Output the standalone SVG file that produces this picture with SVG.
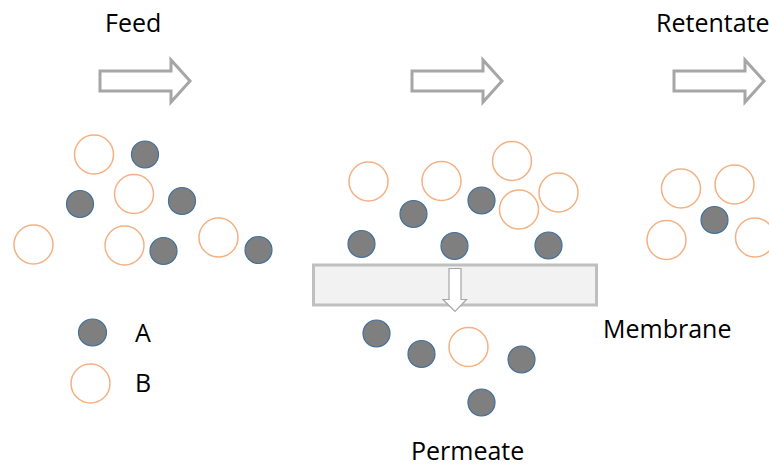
<svg xmlns="http://www.w3.org/2000/svg" width="769" height="466" viewBox="0 0 769 466">
<defs>
<style>
.lbl{font-family:"Open Sans","Liberation Sans",sans-serif;font-size:25px;fill:#000}
.a{fill:#7f7f7f;stroke:#41719c;stroke-width:1.2}
.b{fill:#fff;stroke:#f4b183;stroke-width:1.5}
.flow{fill:#fff;stroke:#a6a6a6;stroke-width:3;stroke-linejoin:miter}
</style>
<circle id="pa" r="13.5"/>
<circle id="pb" r="19.5"/>
</defs>
<rect width="769" height="466" fill="#fff"/>
<g id="labels">
<text class="lbl" x="105" y="32">Feed</text>
<text class="lbl" x="656" y="32">Retentate</text>
<text class="lbl" x="603" y="338">Membrane</text>
<text class="lbl" x="411" y="460">Permeate</text>
<text class="lbl" x="135" y="342">A</text>
<text class="lbl" x="135" y="392">B</text>
</g>
<g id="connectors">
<path class="flow" d="M100,71 H171 V60 L190,81 L171,102 V91 H100 Z"/>
<path class="flow" d="M412,71 H483 V60 L502,81 L483,102 V91 H412 Z"/>
<path class="flow" d="M674,71 H745 V60 L764,81 L745,102 V91 H674 Z"/>
</g>
<g id="membrane">
<rect x="313.5" y="265" width="283" height="40" fill="#f2f2f2" stroke="#bfbfbf" stroke-width="3"/>
<path d="M449,268.5 H461 V299.5 H466.5 L455,311.5 L443,299.5 H449 Z" fill="#fff" stroke="#a6a6a6" stroke-width="1.2"/>
</g>
<g id="feed-particles">
<use href="#pb" class="b" x="94" y="154.5"/>
<use href="#pa" class="a" x="145" y="154.5"/>
<use href="#pb" class="b" x="134" y="194"/>
<use href="#pa" class="a" x="80" y="204"/>
<use href="#pa" class="a" x="182" y="201"/>
<use href="#pb" class="b" x="33.5" y="244.5"/>
<use href="#pb" class="b" x="124.5" y="245.5"/>
<use href="#pa" class="a" x="163.5" y="251"/>
<use href="#pb" class="b" x="218.5" y="237.5"/>
<use href="#pa" class="a" x="258.5" y="250"/>
</g>
<g id="membrane-particles">
<use href="#pb" class="b" x="368.5" y="181.5"/>
<use href="#pb" class="b" x="441.5" y="181"/>
<use href="#pb" class="b" x="512" y="161"/>
<use href="#pb" class="b" x="558.5" y="192.5"/>
<use href="#pb" class="b" x="519" y="209.5"/>
<use href="#pa" class="a" x="481.5" y="200.5"/>
<use href="#pa" class="a" x="413.5" y="214"/>
<use href="#pa" class="a" x="361.5" y="244"/>
<use href="#pa" class="a" x="454.5" y="246"/>
<use href="#pa" class="a" x="548.5" y="245.5"/>
</g>
<g id="permeate-particles">
<use href="#pa" class="a" x="376.5" y="333.5"/>
<use href="#pa" class="a" x="421.5" y="354"/>
<use href="#pb" class="b" x="468.5" y="347"/>
<use href="#pa" class="a" x="521.5" y="359.5"/>
<use href="#pa" class="a" x="481.5" y="402.5"/>
</g>
<g id="retentate-particles">
<use href="#pb" class="b" x="681" y="188.5"/>
<use href="#pb" class="b" x="734.5" y="184.5"/>
<use href="#pa" class="a" x="714.5" y="220"/>
<use href="#pb" class="b" x="666.5" y="240"/>
<use href="#pb" class="b" x="755" y="237.5"/>
</g>
<g id="legend">
<ellipse class="a" cx="92.5" cy="332.5" rx="14" ry="13.5"/>
<use href="#pb" class="b" x="90.5" y="383.5"/>
</g>
</svg>
